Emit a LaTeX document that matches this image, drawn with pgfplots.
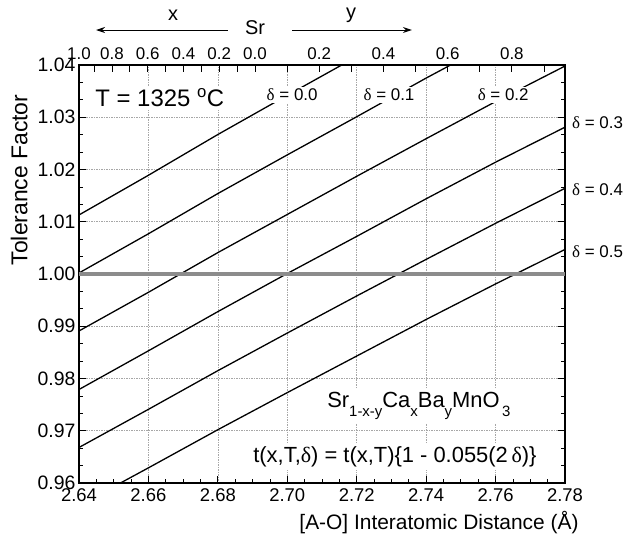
\documentclass[border=0pt]{standalone}
\usepackage{pgfplots}
\pgfplotsset{compat=1.18}
\usepackage{fontspec}
\setmainfont{Liberation Sans}
\newfontfamily\symb{Liberation Serif}
\usetikzlibrary{arrows.meta}
\definecolor{bandgray}{HTML}{8C8C8C}
\newcommand{\fs}[1]{\fontsize{#1}{#1}\selectfont}
\newcommand{\sub}[1]{\raisebox{-0.42em}{\fs{15}#1}}

\begin{document}
\begin{tikzpicture}
\useasboundingbox (-79bp,-54bp) rectangle (546bp,483bp);
\begin{axis}[
    at={(0,0)}, anchor=south west,
    scale only axis, width=486bp, height=418bp,
    xmin=2.64, xmax=2.78, ymin=0.96, ymax=1.04,
    xtick={2.64,2.66,2.68,2.70,2.72,2.74,2.76,2.78},
    ytick={0.96,0.97,0.98,0.99,1.00,1.01,1.02,1.03,1.04},
    minor x tick num=3, minor y tick num=2,
    xtick pos=left,
    tick align=inside,
    major tick length=7bp, minor tick length=4bp,
    every tick/.style={black, line width=0.8bp},
    axis line style={line width=1.2bp},
    grid=major,
    major grid style={gray!70, dash pattern=on 1.5bp off 1bp, line width=0.6bp},
    scaled ticks=false,
    /pgf/number format/assume math mode=true,
    xticklabel style={font=\fs{18.5}, yshift=-2.5bp, /pgf/number format/fixed, /pgf/number format/fixed zerofill, /pgf/number format/precision=2},
    yticklabel style={font=\fs{19.5}, /pgf/number format/fixed, /pgf/number format/fixed zerofill, /pgf/number format/precision=2},
    clip mode=individual,
]

% delta = 0.0
\addplot[black, line width=1.3bp] coordinates {
  (2.64,1.0113) (2.66,1.0189) (2.68,1.0267) (2.70,1.0342) (2.72,1.0416) (2.74,1.0490) (2.76,1.0562) (2.78,1.0632)};
% delta = 0.1
\addplot[black, line width=1.3bp] coordinates {
  (2.64,1.0002) (2.66,1.0077) (2.68,1.0154) (2.70,1.0228) (2.72,1.0301) (2.74,1.0375) (2.76,1.0446) (2.78,1.0515)};
% delta = 0.2
\addplot[black, line width=1.3bp] coordinates {
  (2.64,0.9891) (2.66,0.9965) (2.68,1.0041) (2.70,1.0114) (2.72,1.0187) (2.74,1.0259) (2.76,1.0330) (2.78,1.0398)};
% delta = 0.3
\addplot[black, line width=1.3bp] coordinates {
  (2.64,0.9779) (2.66,0.9853) (2.68,0.9928) (2.70,1.0001) (2.72,1.0072) (2.74,1.0144) (2.76,1.0214) (2.78,1.0281)};
% delta = 0.4
\addplot[black, line width=1.3bp] coordinates {
  (2.64,0.9668) (2.66,0.9741) (2.68,0.9815) (2.70,0.9887) (2.72,0.9958) (2.74,1.0028) (2.76,1.0097) (2.78,1.0164)};
% delta = 0.5
\addplot[black, line width=1.3bp] coordinates {
  (2.64,0.9557) (2.66,0.9629) (2.68,0.9702) (2.70,0.9773) (2.72,0.9843) (2.74,0.9913) (2.76,0.9981) (2.78,1.0047)};

% t = 1
\addplot[bandgray, line width=4bp] coordinates {(2.64,1.00) (2.78,1.00)};

% curve labels
\node[fill=white, inner sep=2bp, font=\fs{17}] at (axis cs:2.7014,1.0343) {{\symb δ} = 0.0};
\node[fill=white, inner sep=2bp, font=\fs{17}] at (axis cs:2.7293,1.0343) {{\symb δ} = 0.1};
\node[fill=white, inner sep=2bp, font=\fs{17}] at (axis cs:2.7622,1.0343) {{\symb δ} = 0.2};
\node[anchor=west, inner sep=0pt, xshift=7bp, font=\fs{17}] at (axis cs:2.78,1.0289) {{\symb δ} = 0.3};
\node[anchor=west, inner sep=0pt, xshift=7bp, font=\fs{17}] at (axis cs:2.78,1.0161) {{\symb δ} = 0.4};
\node[anchor=west, inner sep=0pt, xshift=7bp, font=\fs{17}] at (axis cs:2.78,1.0043) {{\symb δ} = 0.5};

% annotations
\node[anchor=west, fill=white, inner sep=3bp, font=\fs{24}] at (axis cs:2.6438,1.0337) {T = 1325 \textsuperscript{o}C};
\node[anchor=base west, fill=white, inner sep=3bp, font=\fs{22}] at (axis cs:2.7106,0.9745)
  {Sr\sub{1-x-y}Ca\sub{x}Ba\sub{y}MnO\sub{\,3}};
\node[anchor=base west, fill=white, inner sep=3bp, font=\fs{22}] at (axis cs:2.6893,0.9640)
  {t(x,T,{\symb δ}) = t(x,T)\{1 - 0.055(2\,{\symb δ})\}};

% composition header
\node[font=\fs{20}] at (axis cs:2.6907,1.0471) {Sr};
\node[font=\fs{20}] at (axis cs:2.6671,1.0496) {x};
\node[font=\fs{20}] at (axis cs:2.7184,1.0496) {y};
\draw[-{Stealth[length=9bp,width=6bp]}, line width=1bp] (axis cs:2.6829,1.0467) -- (axis cs:2.6449,1.0467);
\draw[-{Stealth[length=9bp,width=6bp]}, line width=1bp] (axis cs:2.7014,1.0467) -- (axis cs:2.7359,1.0467);

% axis titles
\node[rotate=90, font=\fs{23}] at (axis cs:2.6228,1.0180) {Tolerance Factor};
\node[font=\fs{21}] at (axis cs:2.7437,0.9525) {[A-O] Interatomic Distance (Å)};

\end{axis}

% top composition axis
\begin{axis}[
    at={(0,0)}, anchor=south west,
    scale only axis, width=486bp, height=418bp,
    xmin=2.64, xmax=2.78, ymin=0, ymax=1,
    hide y axis, axis x line*=top,
    axis line style={line width=1.2bp, -},
    xtick={2.6400,2.64435,2.6495,2.65465,2.6598,2.66495,2.6701,2.67525,2.6804,2.68555,2.6907,
           2.69995,2.7092,2.71845,2.7277,2.73695,2.7462,2.75545,2.7647,2.77395},
    xticklabels={1.0,,0.8,,0.6,,0.4,,0.2,,0.0,,0.2,,0.4,,0.6,,0.8,},
    tick align=inside, major tick length=7bp,
    every tick/.style={black, line width=0.8bp},
    xticklabel style={font=\fs{17}, yshift=1.5bp},
]
\end{axis}
\end{tikzpicture}
\end{document}
